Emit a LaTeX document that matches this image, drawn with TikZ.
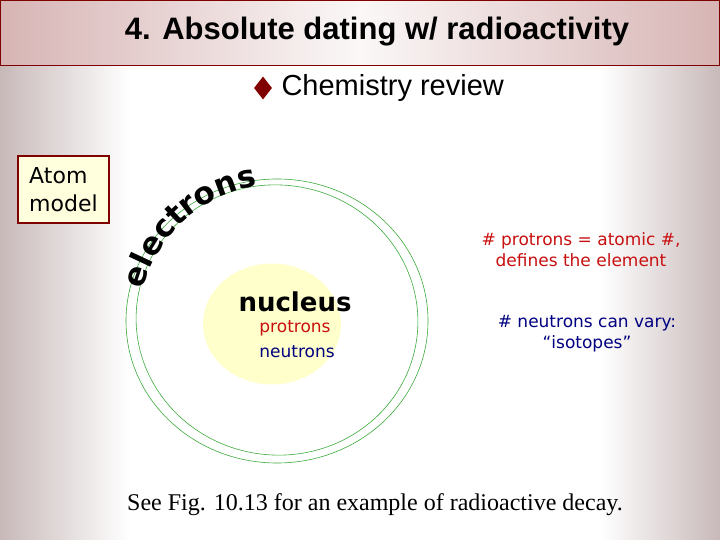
\documentclass[tikz,border=0pt]{standalone}
\usepackage{fontspec}
\setmainfont{DejaVu Sans}
\newfontfamily\arialf{Liberation Sans}
\newfontfamily\timesf{Liberation Serif}
\usetikzlibrary{decorations.text,shapes.geometric}
\definecolor{edgec}{RGB}{200,185,185}
\definecolor{titlec}{RGB}{215,180,180}
\definecolor{dred}{RGB}{128,0,0}
\definecolor{tred}{RGB}{200,16,16}
\definecolor{navyc}{RGB}{0,0,128}
\definecolor{orbit}{RGB}{60,170,60}
\definecolor{nucc}{RGB}{255,255,204}
\definecolor{boxc}{RGB}{255,255,221}
\begin{document}
\begin{tikzpicture}[x=1pt,y=-1pt,
  orb/.style={draw=orbit,line width=0.6pt},
  redt/.style={text=tred,font=\fontsize{17}{21}\selectfont,align=center},
  bluet/.style={text=navyc,font=\fontsize{17}{21}\selectfont,align=center}]
\useasboundingbox (0,0) rectangle (720,540);
\fill[white] (0,0) rectangle (720,540);
\shade[left color=edgec,right color=white] (0,66) rectangle (130,540);
\shade[left color=white,right color=edgec] (600,66) rectangle (720,540);
% title bar
\shade[left color=titlec,right color=titlec,middle color=white!90!titlec] (0,0) rectangle (720,66);
\draw[dred,line width=1pt] (0.5,0.5) rectangle (719.5,66);
\node (title) at (377,32) {\arialf\bfseries\fontsize{31}{34}\selectfont 4. Absolute dating w/ radioactivity};
\node[diamond,fill=dred,inner sep=0pt,minimum width=18pt,minimum height=23pt] (bul) at (263,88) {};
\node[anchor=west] (chem) at (278,88) {\arialf\fontsize{29}{32}\selectfont Chemistry review};
% atom model
\node[draw=dred,line width=2pt,fill=boxc,align=left,inner sep=4pt,font=\fontsize{22}{28}\selectfont,minimum width=91pt,minimum height=67pt] (box) at (63.5,189.5) {Atom\\model};
% orbits
\draw[orb] (277,321) ellipse [x radius=151,y radius=142];
\draw[orb,rotate around={-8:(277,320)}] (277,320) ellipse [x radius=141,y radius=135];
\node[ellipse,fill=nucc,minimum width=138pt,minimum height=121pt] (nuc) at (272,324) {};
\node (nucl) at (295,302) {\bfseries\fontsize{26}{30}\selectfont nucleus};
\node[redt] (pro) at (295,328) {protrons};
\node[bluet] (neu) at (297,352) {neutrons};
\node[redt] (r1) at (581,250) {\# protrons = atomic \#,\\defines the element};
\node[bluet] (b1) at (587,334) {\# neutrons can vary:\\“isotopes”};
\node (foot) at (375,505) {\timesf\fontsize{24}{28}\selectfont See Fig. 10.13 for an example of radioactive decay.};
\begin{scope}[x=1pt,y=1pt]
\path[decorate,decoration={text along path,text align=center,
  text={|\bfseries\fontsize{31}{31}\selectfont|electrons}}]
  (277,-323) ++(164:138) arc[start angle=164,end angle=100,radius=138];
\end{scope}
\end{tikzpicture}
\end{document}
